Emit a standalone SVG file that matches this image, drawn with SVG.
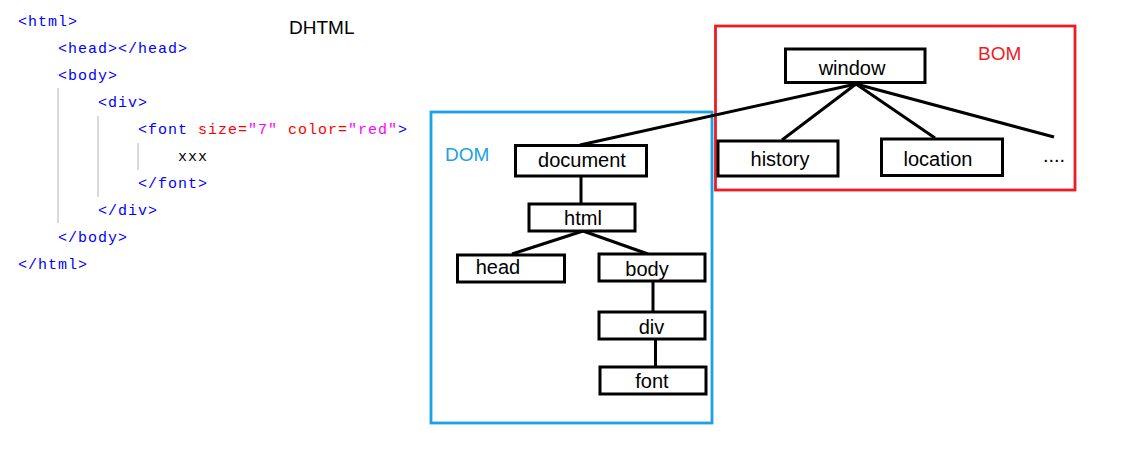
<svg xmlns="http://www.w3.org/2000/svg" width="1138" height="458" viewBox="0 0 1138 458">
<style>
.code{font-family:"Liberation Mono",monospace;font-size:15px;letter-spacing:1px;fill:#0000ff}
.attr{fill:#ff0000}
.val{fill:#ff00ff}
.guide{stroke:#c0c0c0;stroke-width:1.2}
.box{fill:#fff;stroke:#000;stroke-width:3}
.lbl{font-family:"Liberation Sans",Arial,sans-serif;font-size:20px;fill:#000;text-anchor:middle}
.conn{stroke:#000;stroke-width:3;fill:none}
.title{font-family:"Liberation Sans",Arial,sans-serif;font-size:19px}
</style>
<rect width="1138" height="458" fill="#fff"/>
<g id="code">
<line class="guide" x1="58" y1="88" x2="58" y2="223"/>
<line class="guide" x1="98" y1="116" x2="98" y2="197"/>
<line class="guide" x1="138" y1="143" x2="138" y2="170"/>
<text class="code" x="18" y="26">&lt;html&gt;</text>
<text class="code" x="58" y="53">&lt;head&gt;&lt;/head&gt;</text>
<text class="code" x="58" y="80">&lt;body&gt;</text>
<text class="code" x="98" y="107">&lt;div&gt;</text>
<text class="code" x="138" y="134">&lt;font <tspan class="attr">size=</tspan><tspan class="val">"7"</tspan> <tspan class="attr">color=</tspan><tspan class="val">"red"</tspan>&gt;</text>
<text class="code" x="178" y="161" style="fill:#000">xxx</text>
<text class="code" x="138" y="188">&lt;/font&gt;</text>
<text class="code" x="98" y="215">&lt;/div&gt;</text>
<text class="code" x="58" y="242">&lt;/body&gt;</text>
<text class="code" x="18" y="269">&lt;/html&gt;</text>
</g>
<text class="title" x="289" y="34" fill="#000">DHTML</text>
<g id="dom-frame">
<rect x="431" y="112" width="281" height="311" fill="none" stroke="#1ba1e2" stroke-width="2.8"/>
<text class="title" x="445" y="161" fill="#1ba1e2">DOM</text>
</g>
<g id="bom-frame">
<rect x="715.5" y="26" width="359.5" height="164" fill="none" stroke="#ed1c24" stroke-width="2.8"/>
<text class="title" x="978" y="60" fill="#ed1c24">BOM</text>
</g>
<g id="connectors">
<line class="conn" x1="856" y1="84" x2="580" y2="145"/>
<line class="conn" x1="856" y1="84" x2="782" y2="140"/>
<line class="conn" x1="856" y1="84" x2="935" y2="138"/>
<line class="conn" x1="856" y1="84" x2="1054" y2="137"/>
<line class="conn" x1="581" y1="177" x2="581" y2="204"/>
<line class="conn" x1="583" y1="231" x2="512" y2="254"/>
<line class="conn" x1="583" y1="231" x2="648" y2="254"/>
<line class="conn" x1="653" y1="282" x2="653" y2="312"/>
<line class="conn" x1="655.5" y1="339" x2="655.5" y2="367"/>
</g>
<g id="window"><rect class="box" x="785.5" y="49" width="139.5" height="33.5"/><text class="lbl" x="852" y="75">window</text></g>
<g id="history"><rect class="box" x="718" y="141" width="120" height="35"/><text class="lbl" x="780" y="166">history</text></g>
<g id="location"><rect class="box" x="881.5" y="139" width="121" height="36.5"/><text class="lbl" x="938" y="166">location</text></g>
<g id="more"><text class="lbl" x="1054" y="162">....</text></g>
<g id="document"><rect class="box" x="515.5" y="145.5" width="131" height="30.5"/><text class="lbl" x="582" y="167">document</text></g>
<g id="html"><rect class="box" x="529" y="204" width="106" height="27"/><text class="lbl" x="583" y="225">html</text></g>
<g id="head"><rect class="box" x="457.5" y="255" width="107" height="27"/><text class="lbl" x="498" y="274">head</text></g>
<g id="body"><rect class="box" x="599" y="254" width="106" height="27"/><text class="lbl" x="647" y="276">body</text></g>
<g id="div"><rect class="box" x="599" y="312" width="106" height="27"/><text class="lbl" x="651.5" y="334">div</text></g>
<g id="font"><rect class="box" x="600" y="367" width="106" height="27"/><text class="lbl" x="652" y="388">font</text></g>
</svg>
